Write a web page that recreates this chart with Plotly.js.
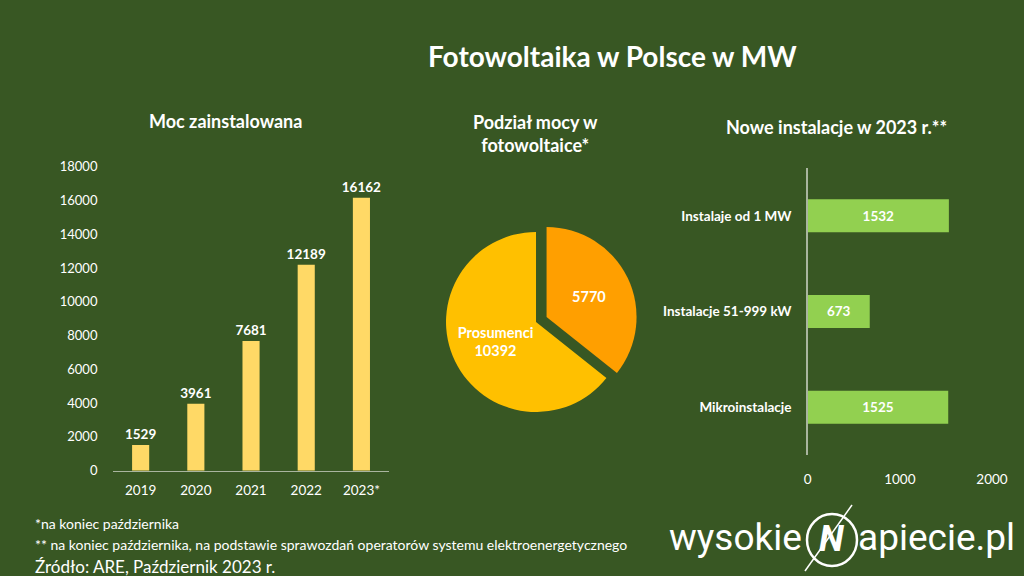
<!DOCTYPE html>
<html>
<head>
<meta charset="utf-8">
<script src="https://cdn.plot.ly/plotly-3.0.1.min.js"></script>
<style>html,body{margin:0;padding:0;background:#385723;}#chart{width:1024px;height:576px;}</style>
</head>
<body>
<div id="chart"></div>
<script>
// Data
const years = ["2019", "2020", "2021", "2022", "2023*"];
const installedMW = [1529, 3961, 7681, 12189, 16162];
const pieLabels = ["Pozostałe", "Prosumenci"];
const pieValues = [5770, 10392];
const newCategories = ["Instalaje od 1 MW", "Instalacje 51-999 kW", "Mikroinstalacje"];
const newValues = [1532, 673, 1525];
const yTicks = [0, 2000, 4000, 6000, 8000, 10000, 12000, 14000, 16000, 18000];
const xTicks2 = [0, 1000, 2000];

const BG = "#385723";
const FONT = "Lato, 'Open Sans', sans-serif";
const W = "#ffffff";

const traces = [
  {
    type: "bar", x: years, y: installedMW, xaxis: "x", yaxis: "y",
    marker: {color: "#FFD966"}, width: 0.31,
    text: installedMW.map(String), textposition: "outside", cliponaxis: false, constraintext: "none",
    textfont: {family: FONT, size: 13.5, color: W, weight: 700},
    hoverinfo: "x+y"
  },
  {
    type: "pie", labels: pieLabels, values: pieValues, sort: false,
    direction: "clockwise", rotation: 0,
    marker: {colors: ["#FF9F00", "#FFC000"], line: {width: 0}},
    pull: [0.13, 0],
    domain: {x: [0.4241, 0.6228], y: [0.2644, 0.6175]},
    texttemplate: ["%{value:.0f}", "%{label}<br>%{value:.0f}"],
    textposition: "inside", insidetextorientation: "horizontal",
    textfont: {family: FONT, size: 14.5, color: W, weight: 700},
    showlegend: false
  },
  {
    type: "bar", orientation: "h", x: newValues, y: newCategories, xaxis: "x2", yaxis: "y2",
    marker: {color: "#92D050"}, width: 0.345,
    text: newValues.map(String), textposition: "inside", insidetextanchor: "middle", constraintext: "none",
    textfont: {family: FONT, size: 13.5, color: W, weight: 700},
    hoverinfo: "x+y"
  }
];

const layout = {
  width: 1024, height: 576,
  margin: {l: 0, r: 0, t: 0, b: 0},
  paper_bgcolor: BG, plot_bgcolor: BG,
  showlegend: false,
  font: {family: FONT, color: W, size: 13},
  title: {text: "<b>Fotowoltaika w Polsce w MW</b>", x: 0.598, xanchor: "center", y: 0.9, yanchor: "middle",
          font: {family: FONT, size: 28, color: W}},
  xaxis: {domain: [0.1104, 0.3799], type: "category", showgrid: false, zeroline: false, showline: true,
          linecolor: "#A9B59F", linewidth: 1.5, ticks: "outside", ticklen: 7, tickcolor: "rgba(0,0,0,0)",
          tickfont: {family: FONT, size: 13.5, color: W}, fixedrange: true},
  yaxis: {domain: [0.1828, 0.7106], range: [0, 18000], tickvals: yTicks, ticktext: yTicks.map(String),
          showgrid: false, zeroline: false, showline: false,
          ticks: "outside", ticklen: 12, tickcolor: "rgba(0,0,0,0)",
          tickfont: {family: FONT, size: 13, color: W}, fixedrange: true},
  xaxis2: {domain: [0.7888, 0.96875], range: [0, 2000], tickvals: xTicks2, ticktext: xTicks2.map(String),
           showgrid: false, zeroline: false, showline: false, anchor: "y2",
           ticks: "outside", ticklen: 12, tickcolor: "rgba(0,0,0,0)",
           tickfont: {family: FONT, size: 13.5, color: W}, fixedrange: true},
  yaxis2: {domain: [0.2101, 0.7083], range: [2.5, -0.5], anchor: "x2", type: "category",
           showgrid: false, zeroline: false, showline: true, linecolor: "#A9B59F", linewidth: 1.5,
           ticks: "outside", ticklen: 12, tickcolor: "rgba(0,0,0,0)",
           tickfont: {family: FONT, size: 13.5, color: W, weight: 700}, fixedrange: true},
  annotations: [
    {text: "<b>Moc zainstalowana</b>", x: 225, y: 121, xanchor: "center",
     font: {size: 18, color: W, family: FONT}},
    {text: "<b>Podział mocy w<br>fotowoltaice*</b>", x: 535, y: 134, xanchor: "center",
     font: {size: 18, color: W, family: FONT}},
    {text: "<b>Nowe instalacje w 2023 r.**</b>", x: 836, y: 127, xanchor: "center",
     font: {size: 18, color: W, family: FONT}},
    {text: "*na koniec października", x: 33, y: 523, xanchor: "left",
     font: {size: 14, color: W, family: FONT}},
    {text: "** na koniec października, na podstawie sprawozdań operatorów systemu elektroenergetycznego", x: 33, y: 544,
     xanchor: "left", font: {size: 14, color: W, family: FONT}},
    {text: "Źródło: ARE, Październik 2023 r.", x: 33, y: 566, xanchor: "left",
     font: {size: 17, color: W, family: FONT}},
    {text: "wysokie", x: 804, y: 537, xanchor: "right",
     font: {size: 37, color: W, family: "Roboto, sans-serif"}},
    {text: "<b><i>N</i></b>", x: 832, y: 539, xanchor: "center",
     font: {size: 36, color: W, family: "Roboto, sans-serif"}},
    {text: "apiecie.pl", x: 856, y: 537, xanchor: "left",
     font: {size: 37, color: W, family: "Roboto, sans-serif"}}
  ].map(a => Object.assign({}, a, {
     xref: "paper", yref: "paper", showarrow: false,
     x: a.x / 1024, y: (576 - a.y) / 576, yanchor: "middle"})),
  shapes: [
    {type: "circle", xref: "paper", yref: "paper", x0: 807/1024, x1: 857/1024, y0: (576-566)/576, y1: (576-514)/576,
     line: {color: W, width: 2.5}},
    {type: "line", xref: "paper", yref: "paper", x0: 852/1024, y0: (576-505)/576, x1: 805/1024, y1: (576-571)/576,
     line: {color: W, width: 1.5}}
  ]
};

Plotly.newPlot("chart", traces, layout, {displayModeBar: false, staticPlot: true});
</script>
</body>
</html>
